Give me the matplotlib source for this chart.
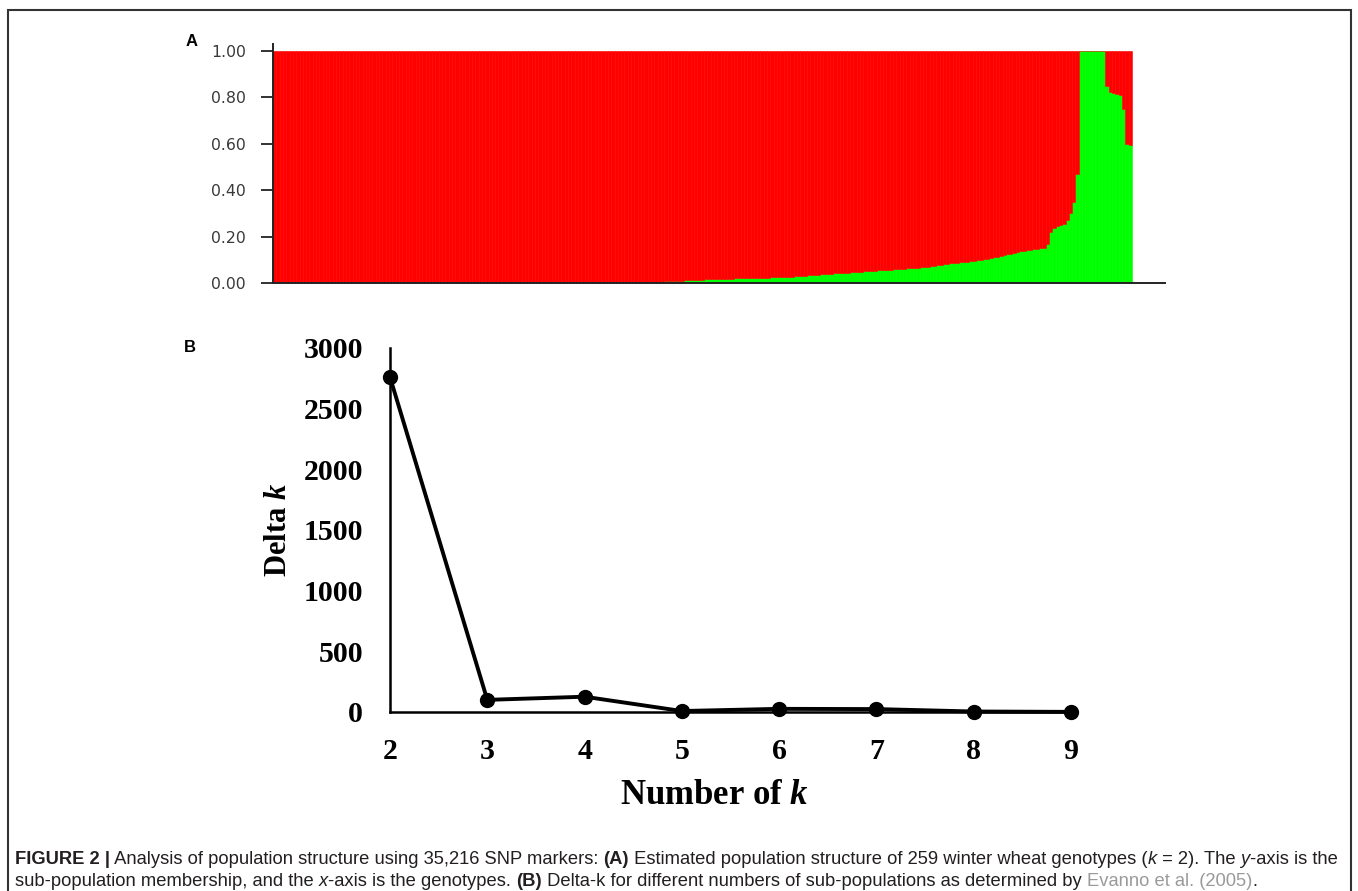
import numpy as np
import matplotlib
matplotlib.use("Agg")
import matplotlib.pyplot as plt
from matplotlib.patches import Rectangle
from matplotlib.text import Annotation

# Panel A: membership in sub-population 2 (green) for 259 genotypes, sorted as in the figure
green_share = [
    0.0, 0.0, 0.0, 0.0, 0.0, 0.0, 0.0, 0.0, 0.0, 0.0, 0.0, 0.0, 0.0, 0.0, 0.0,
    0.0, 0.0, 0.0, 0.0, 0.0, 0.0, 0.0, 0.0, 0.0, 0.0, 0.0, 0.0, 0.0, 0.0, 0.0,
    0.0, 0.0, 0.0, 0.0, 0.0, 0.0, 0.0, 0.0, 0.0, 0.0, 0.0, 0.0, 0.0, 0.0, 0.0,
    0.0, 0.0, 0.0, 0.0, 0.0, 0.0, 0.0, 0.0, 0.0, 0.0, 0.0, 0.0, 0.0, 0.0, 0.0,
    0.0, 0.0, 0.0, 0.0, 0.0, 0.0, 0.0, 0.0, 0.0, 0.0, 0.0, 0.0, 0.0, 0.0, 0.0,
    0.0, 0.0, 0.0, 0.0, 0.0, 0.0, 0.0, 0.0, 0.0, 0.0, 0.0, 0.0, 0.0, 0.0, 0.0,
    0.0, 0.0, 0.0, 0.0, 0.0, 0.0, 0.0, 0.0, 0.0, 0.0, 0.0, 0.0, 0.0, 0.0, 0.0,
    0.002, 0.002, 0.003, 0.003, 0.003, 0.004, 0.004, 0.004, 0.005, 0.005, 0.005, 0.006,
    0.006, 0.007, 0.007, 0.008, 0.009, 0.010, 0.010, 0.011, 0.012, 0.013, 0.014, 0.014,
    0.015, 0.016,
    0.017, 0.017, 0.018, 0.018, 0.018, 0.019, 0.019, 0.019, 0.020, 0.020, 0.020, 0.021,
    0.021, 0.021, 0.022, 0.022, 0.022, 0.023, 0.023, 0.024, 0.024, 0.025, 0.025,
    0.026, 0.027, 0.028, 0.029, 0.030, 0.031, 0.032, 0.033, 0.034, 0.035,
    0.036, 0.037, 0.038, 0.039, 0.040, 0.041, 0.042, 0.043, 0.044, 0.045,
    0.046, 0.047, 0.048, 0.049, 0.050, 0.051, 0.052, 0.053, 0.054, 0.055,
    0.056, 0.057, 0.058, 0.059, 0.060, 0.061, 0.062, 0.063, 0.064, 0.065,
    0.066, 0.068, 0.070, 0.071, 0.073, 0.075, 0.077, 0.079, 0.081, 0.083,
    0.085, 0.086, 0.088, 0.089, 0.091, 0.092, 0.094, 0.096, 0.098, 0.100,
    0.102, 0.105, 0.108, 0.111, 0.114, 0.117, 0.120, 0.123, 0.127, 0.131,
    0.135, 0.137, 0.139, 0.141, 0.143, 0.145, 0.147, 0.149, 0.152,
    0.170,
    0.220, 0.235, 0.245, 0.250, 0.255,
    0.270, 0.300, 0.350, 0.470,
    1.0, 1.0, 1.0, 1.0, 1.0, 1.0, 1.0, 1.0,
    0.850, 0.825, 0.820, 0.815, 0.810, 0.750, 0.600, 0.595,
]
a_yticks = [0.0, 0.2, 0.4, 0.6, 0.8, 1.0]
a_yticklabels = ["0.00", "0.20", "0.40", "0.60", "0.80", "1.00"]

# Panel B: Delta k by number of sub-populations
k_values = [2, 3, 4, 5, 6, 7, 8, 9]
delta_k = [2760, 100, 126, 8, 26, 24, 4, 1]
b_yticks = [0, 500, 1000, 1500, 2000, 2500, 3000]

W, H = 1358, 891
plt.rcParams["mathtext.fontset"] = "custom"
plt.rcParams["mathtext.it"] = "Liberation Serif:italic:bold"
plt.rcParams["mathtext.rm"] = "Liberation Serif:bold"

fig = plt.figure(figsize=(W / 100, H / 100), dpi=100)

# ---- panel A ----
axA = fig.add_axes([273 / W, 1 - 283 / H, (1165 - 273) / W, 239 / H])
green = np.array(green_share)
x = np.arange(len(green))
axA.bar(x, green, width=1.0, color="#00ff00", edgecolor="#00ff00", linewidth=0.4)
axA.bar(x, 1 - green, bottom=green, width=1.0, color="#ff0000", edgecolor="#ff0000", linewidth=0.4)
axA.set_xlim(-0.5, 268.5)
axA.set_ylim(0, 1.03)
axA.set_yticks(a_yticks)
axA.set_yticklabels(a_yticklabels, fontsize=11.3, color="#3a3a3a", family="DejaVu Sans")
axA.set_xticks([])
axA.tick_params(axis="y", length=9, width=1.3, color="#222222", pad=10.5)
for s in ["top", "right"]:
    axA.spines[s].set_visible(False)
for s in ["left", "bottom"]:
    axA.spines[s].set_color("#222222")
    axA.spines[s].set_linewidth(1.4)

# ---- panel B ----
axB = fig.add_axes([390 / W, 1 - 712 / H, (1071 - 390) / W, 364 / H])
axB.plot(k_values, delta_k, color="black", lw=2.8, marker="o", ms=10, clip_on=False, zorder=3)
axB.set_xlim(2, 9)
axB.set_ylim(0, 3000)
axB.set_xticks(k_values)
axB.set_yticks(b_yticks)
for lab in axB.get_xticklabels() + axB.get_yticklabels():
    lab.set_family("Liberation Serif")
    lab.set_fontweight("bold")
    lab.set_fontsize(21.5)
axB.tick_params(axis="both", length=0)
axB.tick_params(axis="y", pad=19.5)
axB.tick_params(axis="x", pad=19)
for s in ["top", "right"]:
    axB.spines[s].set_visible(False)
for s in ["left", "bottom"]:
    axB.spines[s].set_color("black")
    axB.spines[s].set_linewidth(1.8)
axB.set_ylabel("Delta $k$", family="Liberation Serif", fontweight="bold", fontsize=22)
axB.yaxis.set_label_coords((279 - 390) / 681, (712 - 530) / 364)
axB.set_xlabel("Number of $k$", family="Liberation Serif", fontweight="bold", fontsize=25)
axB.xaxis.set_label_coords((714 - 390) / 681, (712 - 796) / 364)
axB.xaxis.label.set_va("center")
axB.yaxis.label.set_va("center")

# panel letters
fig.text(192 / W, 1 - 41 / H, "A", family="Liberation Sans", fontweight="bold",
         fontsize=12, ha="center", va="center")
fig.text(190 / W, 1 - 347 / H, "B", family="Liberation Sans", fontweight="bold",
         fontsize=12, ha="center", va="center")

# frame around the figure
fig.patches.append(Rectangle((8 / W, -0.05), (1351 - 8) / W, 1 - 10 / H + 0.05,
                             transform=fig.transFigure, fill=False,
                             ec="#333333", lw=1.5))

# caption, built piece by piece
cap_color = "#231f20"
line1 = [("FIGURE 2 |", "bold", "normal", cap_color),
         (" Analysis of population structure using 35,216 SNP markers: ", "normal", "normal", cap_color),
         ("(A)", "bold", "normal", cap_color),
         (" Estimated population structure of 259 winter wheat genotypes (", "normal", "normal", cap_color),
         ("k", "normal", "italic", cap_color),
         (" = 2). The ", "normal", "normal", cap_color),
         ("y", "normal", "italic", cap_color),
         ("-axis is the", "normal", "normal", cap_color)]
line2 = [("sub-population membership, and the ", "normal", "normal", cap_color),
         ("x", "normal", "italic", cap_color),
         ("-axis is the genotypes. ", "normal", "normal", cap_color),
         ("(B)", "bold", "normal", cap_color),
         (" Delta-k for different numbers of sub-populations as determined by ", "normal", "normal", cap_color),
         ("Evanno et al. (2005)", "normal", "normal", "#9a9a9a"),
         (".", "normal", "normal", cap_color)]


def write_line(pieces, y_px):
    prev = None
    for txt, wt, st, col in pieces:
        kw = dict(family="Liberation Sans", fontweight=wt, fontstyle=st,
                  fontsize=13.25, color=col, va="bottom", ha="left")
        if prev is None:
            prev = fig.text(15 / W, 1 - y_px / H, txt, **kw)
        else:
            prev = fig.add_artist(Annotation(txt, xy=(1, 0), xycoords=prev, **kw))


write_line(line1, 868)
write_line(line2, 890)

fig.savefig("out.png", dpi=100)
